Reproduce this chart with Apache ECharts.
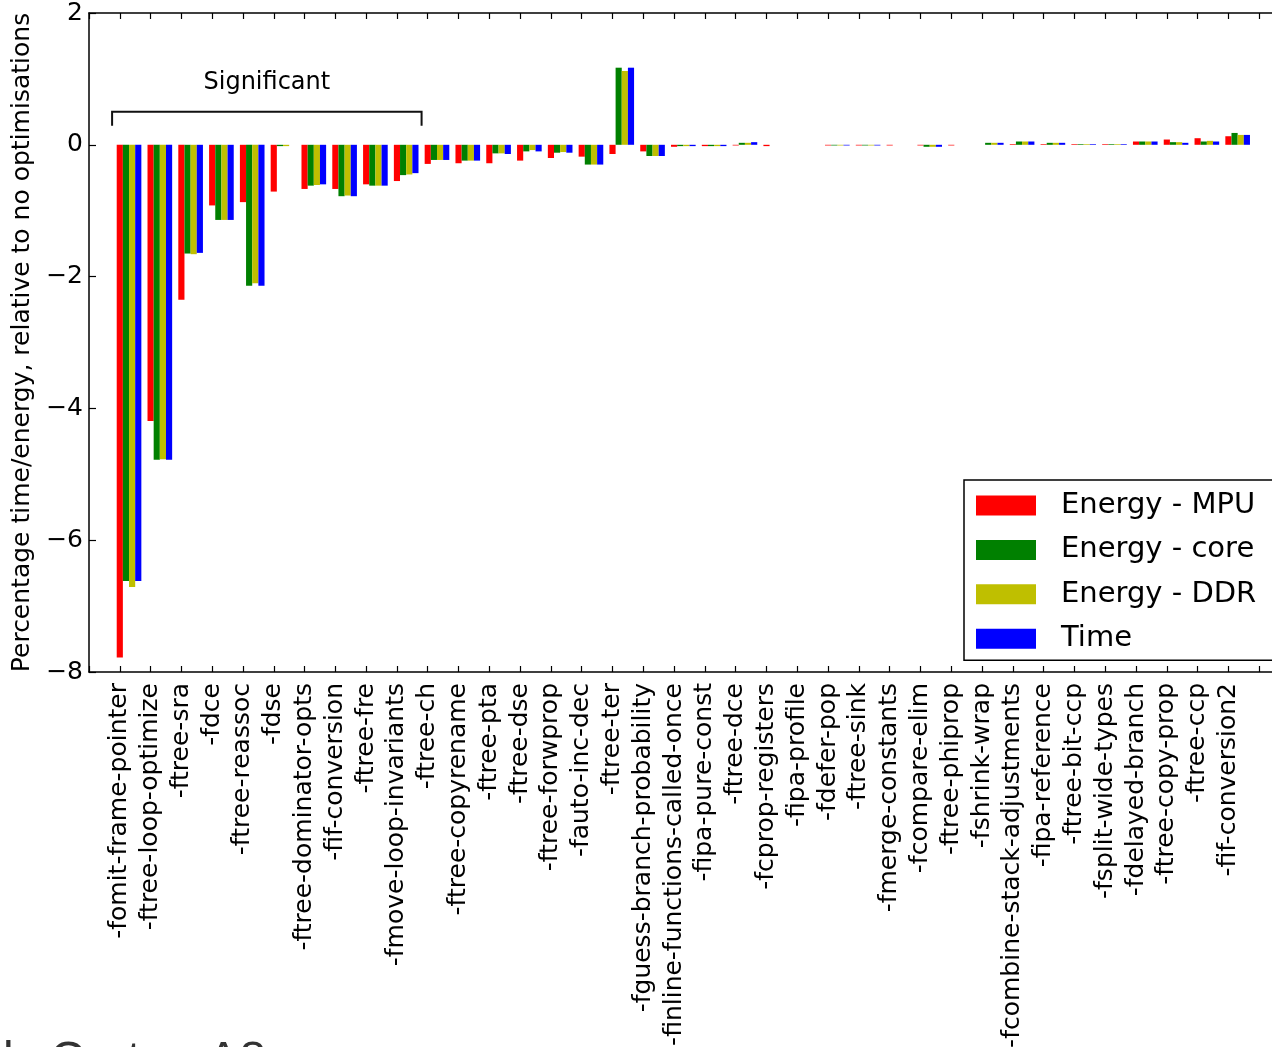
<!DOCTYPE html>
<html>
<head>
<meta charset="utf-8">
<title>GCC optimisation flags - Cortex-A8</title>
<script src="https://cdn.jsdelivr.net/npm/echarts@6/dist/echarts.min.js"></script>
<style>
  html, body { margin: 0; padding: 0; background: #fff; overflow: hidden; }
  #chart { width: 1300px; height: 1047px; }
</style>
</head>
<body>
<div id="chart"></div>
<script>
// GCC flags, ordered by their effect on MPU energy
const categories = [
  '-fomit-frame-pointer', '-ftree-loop-optimize', '-ftree-sra', '-fdce', '-ftree-reassoc',
  '-fdse', '-ftree-dominator-opts', '-fif-conversion', '-ftree-fre', '-fmove-loop-invariants',
  '-ftree-ch', '-ftree-copyrename', '-ftree-pta', '-ftree-dse', '-ftree-forwprop',
  '-fauto-inc-dec', '-ftree-ter', '-fguess-branch-probability', '-finline-functions-called-once', '-fipa-pure-const',
  '-ftree-dce', '-fcprop-registers', '-fipa-profile', '-fdefer-pop', '-ftree-sink',
  '-fmerge-constants', '-fcompare-elim', '-ftree-phiprop', '-fshrink-wrap', '-fcombine-stack-adjustments',
  '-fipa-reference', '-ftree-bit-ccp', '-fsplit-wide-types', '-fdelayed-branch', '-ftree-copy-prop',
  '-ftree-ccp', '-fif-conversion2'
];

// Percentage change relative to no optimisations
const energyMPU = [
  -7.78, -4.19, -2.35, -0.92, -0.87, -0.71, -0.67, -0.67, -0.60, -0.55,
  -0.29, -0.28, -0.28, -0.24, -0.20, -0.18, -0.14, -0.10, -0.03, -0.02,
  -0.01, -0.02, 0, -0.01, -0.01, -0.01, -0.01, -0.01, 0.00, 0.01,
  0.01, 0.01, 0.01, 0.05, 0.08, 0.10, 0.13
];
const energyCore = [
  -6.62, -4.78, -1.65, -1.14, -2.14, -0.02, -0.62, -0.78, -0.62, -0.46,
  -0.23, -0.24, -0.13, -0.10, -0.12, -0.30, 1.17, -0.17, -0.02, -0.02,
  0.03, 0, 0, -0.01, -0.01, 0, -0.03, 0, 0.03, 0.05,
  0.03, 0.01, 0.01, 0.05, 0.04, 0.05, 0.18
];
const energyDDR = [
  -6.71, -4.77, -1.66, -1.14, -2.10, -0.02, -0.61, -0.77, -0.62, -0.45,
  -0.23, -0.24, -0.13, -0.08, -0.11, -0.30, 1.12, -0.17, -0.02, -0.02,
  0.03, 0, 0, -0.01, -0.01, 0, -0.03, 0, 0.03, 0.05,
  0.03, 0.01, 0.01, 0.05, 0.04, 0.06, 0.15
];
const timeValues = [
  -6.62, -4.78, -1.64, -1.14, -2.14, 0, -0.60, -0.78, -0.62, -0.43,
  -0.23, -0.24, -0.14, -0.10, -0.12, -0.30, 1.17, -0.17, -0.02, -0.02,
  0.04, 0, 0, -0.01, -0.01, 0, -0.03, 0, 0.03, 0.05,
  0.03, 0.01, 0.01, 0.05, 0.03, 0.05, 0.15
];

const seriesNames = ['Energy - MPU', 'Energy - core', 'Energy - DDR', 'Time'];
const seriesValues = [energyMPU, energyCore, energyDDR, timeValues];
const seriesColors = ['#ff0000', '#008000', '#bfbf00', '#0000ff'];

// Last flag covered by the "Significant" bracket
const significantLast = '-fmove-loop-invariants';

const FONT = "'DejaVu Sans', sans-serif";
const BAR = 0.2;   // width of one bar in category units

const chart = echarts.init(document.getElementById('chart'), null, { renderer: 'canvas' });

function renderBar(params, api) {
  const i = api.value(0);
  const v = api.value(1);
  const k = params.seriesIndex;
  const x0 = i - BAR / 2 + k * BAR;
  const a = api.coord([x0, 0]);
  const b = api.coord([x0 + BAR, v]);
  return {
    type: 'rect',
    shape: {
      x: a[0],
      y: Math.min(a[1], b[1]),
      width: b[0] - a[0],
      height: Math.abs(b[1] - a[1])
    },
    style: { fill: seriesColors[k] }
  };
}

const axisLine = { show: true, onZero: false, lineStyle: { color: '#000', width: 1.5 } };

chart.setOption({
  animation: false,
  backgroundColor: '#fff',
  textStyle: { fontFamily: FONT },
  grid: { left: 89, right: 10, top: 13, bottom: 375, containLabel: false, outerBoundsMode: 'none' },
  legend: {
    data: seriesNames,
    orient: 'vertical',
    left: 964,
    top: 480,
    icon: 'rect',
    itemWidth: 60,
    itemHeight: 20,
    itemGap: 15.4,
    padding: [11, 40, 7, 12],
    borderColor: '#000',
    borderWidth: 1.5,
    backgroundColor: '#fff',
    textStyle: { fontFamily: FONT, fontSize: 29, color: '#000', padding: [0, 0, 0, 20] }
  },
  xAxis: [
    {
      type: 'value',
      position: 'bottom',
      min: -1,
      max: 38,
      interval: 1,
      axisLine: axisLine,
      splitLine: { show: false },
      axisTick: { show: true, inside: true, length: 6, lineStyle: { color: '#000', width: 1.2 } },
      axisLabel: {
        rotate: 90,
        margin: 11,
        fontFamily: FONT,
        fontSize: 25,
        color: '#000',
        showMinLabel: true,
        showMaxLabel: true,
        formatter: function (v) {
          return Number.isInteger(v) && v >= 0 && v < categories.length ? categories[v] : '';
        }
      }
    },
    {
      type: 'value',
      position: 'top',
      min: -1,
      max: 38,
      interval: 1,
      axisLine: axisLine,
      splitLine: { show: false },
      axisTick: { show: true, inside: true, length: 6, lineStyle: { color: '#000', width: 1.2 } },
      axisLabel: { show: false }
    }
  ],
  yAxis: {
    type: 'value',
    min: -8,
    max: 2,
    interval: 2,
    name: 'Percentage time/energy, relative to no optimisations',
    nameLocation: 'middle',
    nameRotate: 90,
    nameGap: 54,
    nameTextStyle: { fontFamily: FONT, fontSize: 25, color: '#000' },
    axisLine: axisLine,
    splitLine: { show: false },
    axisTick: { show: true, inside: true, length: 7, lineStyle: { color: '#000', width: 1.2 } },
    axisLabel: {
      margin: 6,
      fontFamily: FONT,
      fontSize: 25,
      color: '#000',
      formatter: function (v) { return String(v).replace('-', '\u2212'); }
    }
  },
  series: seriesNames.map(function (name, k) {
    return {
      name: name,
      type: 'custom',
      xAxisIndex: 0,
      renderItem: renderBar,
      itemStyle: { color: seriesColors[k] },
      encode: { x: 0, y: 1 },
      data: seriesValues[k].map(function (v, i) { return [i, v]; })
    };
  })
});

// "Significant" bracket over the leading group of flags, plus the caption below the chart
function drawAnnotations() {
  const lastIdx = categories.indexOf(significantLast);
  const leftTop = chart.convertToPixel({ xAxisIndex: 0, yAxisIndex: 0 }, [-0.25, 0.5]);
  const rightTop = chart.convertToPixel({ xAxisIndex: 0, yAxisIndex: 0 }, [lastIdx + 0.8, 0.5]);
  const foot = chart.convertToPixel({ xAxisIndex: 0, yAxisIndex: 0 }, [0, 0.29]);
  const textPos = chart.convertToPixel({ xAxisIndex: 0, yAxisIndex: 0 }, [0, 0.94]);
  chart.setOption({
    graphic: [
      {
        type: 'polyline',
        shape: { points: [[leftTop[0], foot[1]], leftTop, rightTop, [rightTop[0], foot[1]]] },
        style: { stroke: '#111', lineWidth: 2, fill: null }
      },
      {
        type: 'text',
        x: (leftTop[0] + rightTop[0]) / 2,
        y: textPos[1],
        style: {
          text: 'Significant', fontFamily: FONT, fontSize: 24, fill: '#000',
          align: 'center', verticalAlign: 'middle'
        }
      },
      {
        type: 'text', x: 3, y: 1038,
        style: { text: 'l', fontFamily: "'Liberation Sans', Arial, sans-serif", fontSize: 48, fill: '#333', verticalAlign: 'top' }
      },
      {
        type: 'text', x: 50, y: 1038,
        style: { text: 'Cortex-A8', fontFamily: "'Liberation Sans', Arial, sans-serif", fontSize: 48, fill: '#333', verticalAlign: 'top' }
      }
    ]
  });
}
drawAnnotations();
</script>
</body>
</html>
